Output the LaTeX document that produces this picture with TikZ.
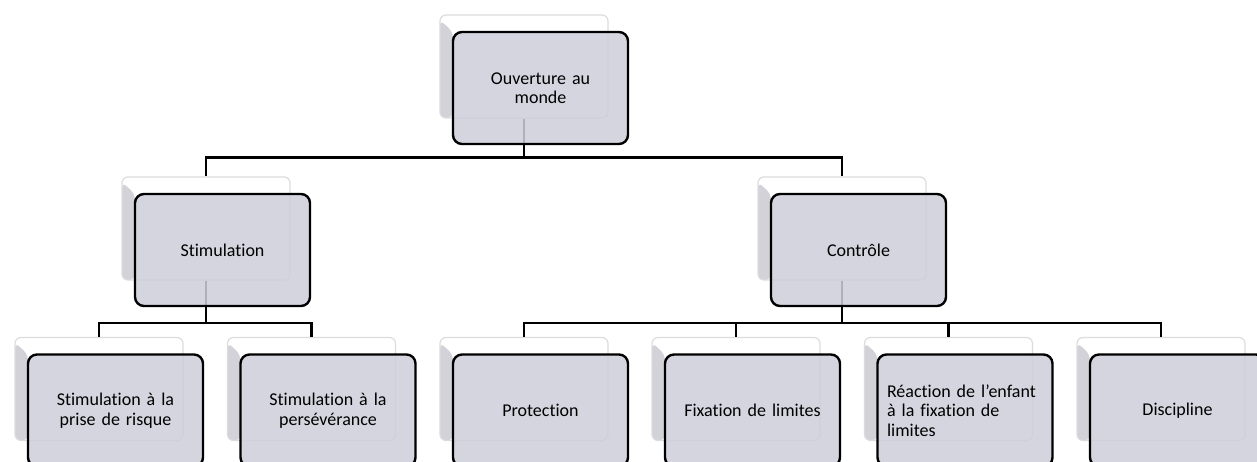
\documentclass[tikz,border=0pt]{standalone}
\usepackage{fontspec}
\setmainfont{Carlito}[Ligatures={NoCommon}]

\definecolor{boxfill}{RGB}{206,206,218}
\definecolor{backline}{RGB}{220,220,224}
\definecolor{bevel}{RGB}{210,210,216}

\tikzset{
	backbox/.style={draw=backline, line width=1.2pt, fill=white, rounded corners=6pt,
		minimum width=168pt, minimum height=103pt, inner sep=0pt,
		path picture={\fill[bevel] ([yshift=-5pt]path picture bounding box.north west)
			-- ([xshift=13pt,yshift=-17pt]path picture bounding box.north west)
			-- ([xshift=13pt]path picture bounding box.south west)
			-- (path picture bounding box.south west) -- cycle;}},
	mainbox/.style={draw=black, line width=2.4pt, fill=boxfill, fill opacity=0.85,
		text opacity=1, rounded corners=9pt, minimum width=175pt, minimum height=112pt,
		inner sep=0pt, text width=156pt, align=center,
		font=\fontsize{18}{19.5}\selectfont},
	conn/.style={draw=black, line width=2.2pt}
}

\begin{document}
\begin{tikzpicture}[x=1pt, y=-1pt]
\useasboundingbox (0,0) rectangle (1257,462);
\clip (0,0) rectangle (1257,462);
\fill[white] (0,0) rectangle (1257,462);

% boxes behind
\foreach \nm/\x/\y in {ow/524/66.5, st/206/228.5, ct/842/228.5,
	sr/99/389, sp/311.5/389, pr/524/389, fl/736/389, re/948.5/389, di/1161/389}
{
	\node[backbox] (\nm-b) at (\x,\y) {};
}

% connectors
\draw[conn] (ow-b.south) -- ++(0,39) coordinate (ow-bar);
\draw[conn] (st-b.north) |- (ow-bar) -| (ct-b.north);
\foreach \nm/\pa in {sr/st, sp/st, pr/ct, fl/ct, re/ct, di/ct}
{
	\draw[conn] (\pa-b.south) -- ++(0,42) -| (\nm-b.north);
}

% front boxes
\node[mainbox] (ow) at ([shift={(16.5,21.5)}]ow-b.center) {Ouverture au\\monde};
\node[mainbox] (st) at ([shift={(16.5,21.5)}]st-b.center) {Stimulation};
\node[mainbox] (ct) at ([shift={(16.5,21.5)}]ct-b.center) {Contrôle};
\node[mainbox] (sr) at ([shift={(16.5,21.5)}]sr-b.center) {Stimulation à la\\prise de risque};
\node[mainbox] (sp) at ([shift={(16.5,21.5)}]sp-b.center) {Stimulation à la\\persévérance};
\node[mainbox] (pr) at ([shift={(16.5,21.5)}]pr-b.center) {Protection};
\node[mainbox] (fl) at ([shift={(16.5,21.5)}]fl-b.center) {Fixation de limites};
\node[mainbox, align=left] (re) at ([shift={(16.5,21.5)}]re-b.center)
	{Réaction de l’enfant\\à la fixation de\\limites};
\node[mainbox] (di) at ([shift={(16.5,21.5)}]di-b.center) {Discipline};
\end{tikzpicture}
\end{document}
